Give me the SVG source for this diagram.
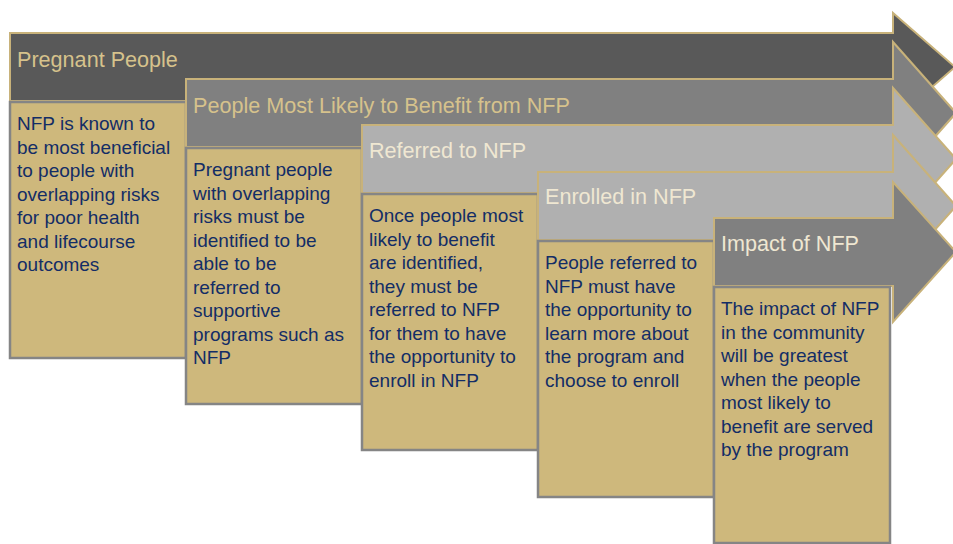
<svg xmlns="http://www.w3.org/2000/svg" width="953" height="544" viewBox="0 0 953 544">
  <style>
    .arrow { stroke: #C8B27A; stroke-width: 2; stroke-linejoin: miter; }
    .a-dark { fill: #595959; }
    .a-mid { fill: #808080; }
    .a-light { fill: #B0B0B0; }
    .box { fill: #CEB87C; stroke: #858585; stroke-width: 2.5; }
    .title { font-family: "Liberation Sans", Arial, sans-serif; font-size: 21.6px; }
    .t-tan { fill: #D6C28C; }
    .t-cream { fill: #EFE7D2; }
    .body { font-family: "Liberation Sans", Arial, sans-serif; font-size: 19px; fill: #132D66; }
  </style>

  <rect width="953" height="544" fill="#FFFFFF"/>

  <!-- Stage 1 -->
  <g id="stage-pregnant-people">
    <path class="arrow a-dark" d="M10,33 H893 V13 L955,67 L893,121 V101 H10 Z"/>
    <text class="title t-tan" x="17" y="67">Pregnant People</text>
    <rect class="box" x="10" y="102" width="176" height="256"/>
    <text class="body" x="17" y="130">
      <tspan x="17" dy="0">NFP is known to</tspan>
      <tspan x="17" dy="23.5">be most beneficial</tspan>
      <tspan x="17" dy="23.5">to people with</tspan>
      <tspan x="17" dy="23.5">overlapping risks</tspan>
      <tspan x="17" dy="23.5">for poor health</tspan>
      <tspan x="17" dy="23.5">and lifecourse</tspan>
      <tspan x="17" dy="23.5">outcomes</tspan>
    </text>
  </g>

  <!-- Stage 2 -->
  <g id="stage-most-likely">
    <path class="arrow a-mid" d="M186,79 H893 V42 L956,113 L893,184 V147 H186 Z"/>
    <text class="title t-tan" x="193" y="113">People Most Likely to Benefit from NFP</text>
    <rect class="box" x="186" y="148" width="176" height="256"/>
    <text class="body" x="193" y="176">
      <tspan x="193" dy="0">Pregnant people</tspan>
      <tspan x="193" dy="23.5">with overlapping</tspan>
      <tspan x="193" dy="23.5">risks must be</tspan>
      <tspan x="193" dy="23.5">identified to be</tspan>
      <tspan x="193" dy="23.5">able to be</tspan>
      <tspan x="193" dy="23.5">referred to</tspan>
      <tspan x="193" dy="23.5">supportive</tspan>
      <tspan x="193" dy="23.5">programs such as</tspan>
      <tspan x="193" dy="23.5">NFP</tspan>
    </text>
  </g>

  <!-- Stage 3 -->
  <g id="stage-referred">
    <path class="arrow a-light" d="M362,125 H893 V88 L956,159 L893,230 V193 H362 Z"/>
    <text class="title t-cream" x="369" y="158">Referred to NFP</text>
    <rect class="box" x="362" y="194" width="176" height="256"/>
    <text class="body" x="369" y="222">
      <tspan x="369" dy="0">Once people most</tspan>
      <tspan x="369" dy="23.5">likely to benefit</tspan>
      <tspan x="369" dy="23.5">are identified,</tspan>
      <tspan x="369" dy="23.5">they must be</tspan>
      <tspan x="369" dy="23.5">referred to NFP</tspan>
      <tspan x="369" dy="23.5">for them to have</tspan>
      <tspan x="369" dy="23.5">the opportunity to</tspan>
      <tspan x="369" dy="23.5">enroll in NFP</tspan>
    </text>
  </g>

  <!-- Stage 4 -->
  <g id="stage-enrolled">
    <path class="arrow a-light" d="M538,172 H893 V135 L956,206 L893,277 V240 H538 Z"/>
    <text class="title t-cream" x="545" y="204">Enrolled in NFP</text>
    <rect class="box" x="538" y="241" width="176" height="256"/>
    <text class="body" x="545" y="269">
      <tspan x="545" dy="0">People referred to</tspan>
      <tspan x="545" dy="23.5">NFP must have</tspan>
      <tspan x="545" dy="23.5">the opportunity to</tspan>
      <tspan x="545" dy="23.5">learn more about</tspan>
      <tspan x="545" dy="23.5">the program and</tspan>
      <tspan x="545" dy="23.5">choose to enroll</tspan>
    </text>
  </g>

  <!-- Stage 5 -->
  <g id="stage-impact">
    <path class="arrow a-mid" d="M714,218 H893 V182 L956,252 L893,322 V286 H714 Z"/>
    <text class="title t-cream" x="721" y="251">Impact of NFP</text>
    <rect class="box" x="714" y="287" width="176" height="256"/>
    <text class="body" x="721" y="315">
      <tspan x="721" dy="0">The impact of NFP</tspan>
      <tspan x="721" dy="23.5">in the community</tspan>
      <tspan x="721" dy="23.5">will be greatest</tspan>
      <tspan x="721" dy="23.5">when the people</tspan>
      <tspan x="721" dy="23.5">most likely to</tspan>
      <tspan x="721" dy="23.5">benefit are served</tspan>
      <tspan x="721" dy="23.5">by the program</tspan>
    </text>
  </g>

  <g id="connectors"/>
</svg>
